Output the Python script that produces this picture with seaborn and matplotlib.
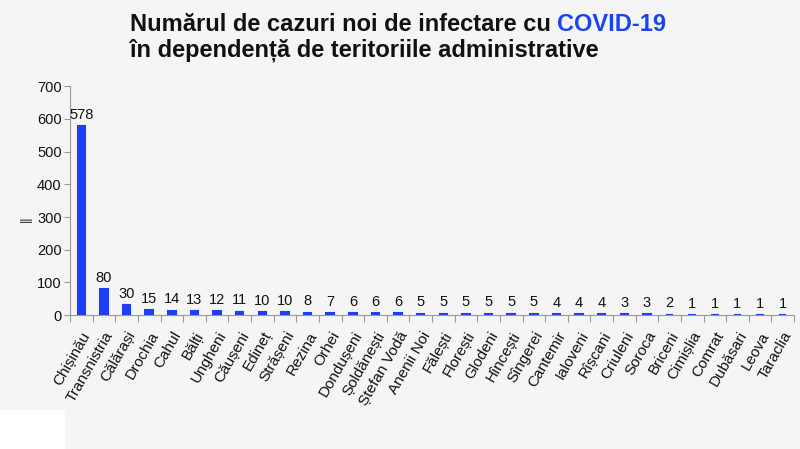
import matplotlib
matplotlib.use('Agg')
import matplotlib.pyplot as plt
import seaborn as sns
import pandas as pd
from matplotlib.patches import Rectangle
from matplotlib.ticker import FixedLocator

# Data
raioane = [
    'Chișinău', 'Transnistria', 'Călărași', 'Drochia', 'Cahul', 'Bălți',
    'Ungheni', 'Căușeni', 'Edineț', 'Strășeni', 'Rezina', 'Orhei',
    'Dondușeni', 'Șoldănești', 'Ștefan Vodă', 'Anenii Noi', 'Fălești',
    'Florești', 'Glodeni', 'Hîncești', 'Sîngerei', 'Cantemir', 'Ialoveni',
    'Rîșcani', 'Criuleni', 'Soroca', 'Briceni', 'Cimișlia', 'Comrat',
    'Dubăsari', 'Leova', 'Taraclia'
]
cazuri = [578, 80, 30, 15, 14, 13, 12, 11, 10, 10, 8, 7, 6, 6, 6, 5, 5, 5,
          5, 5, 5, 4, 4, 4, 3, 3, 2, 1, 1, 1, 1, 1]
y_ticks = [0, 100, 200, 300, 400, 500, 600, 700]

BG = '#f5f5f5'
BAR = '#1e3ff5'

sns.set_theme(style='white')
plt.rcParams['font.family'] = ['Liberation Sans', 'DejaVu Sans']

df = pd.DataFrame({'raion': raioane, 'cazuri': cazuri})

fig = plt.figure(figsize=(8, 4.49), dpi=100, facecolor=BG)
ax = fig.add_axes([0.0875, 0.298, 0.905, 0.51])
ax.set_facecolor(BG)

# thin edge in the same colour keeps the 1-case bars visible
sns.barplot(data=df, x='raion', y='cazuri', color=BAR, width=0.33,
            saturation=1, edgecolor=BAR, linewidth=1.5, ax=ax)
for bar in ax.containers[0]:
    bar.set_zorder(3)

ax.bar_label(ax.containers[0], fontsize=10.5, padding=3, color='#111111')

ax.set_ylim(0, 700)
ax.set_xlim(-0.5, len(raioane) - 0.5)
ax.set_yticks(y_ticks)
ax.tick_params(axis='y', labelsize=10.5, length=4, width=0.8,
               color='#999999', left=True, pad=2, labelcolor='#111111')
ax.set_xticks(range(len(raioane)))
ax.set_xticklabels(raioane, rotation=60, ha='right', rotation_mode='anchor',
                   fontsize=11, color='#111111')
ax.tick_params(axis='x', which='major', length=0, pad=10)
ax.xaxis.set_minor_locator(FixedLocator([i - 0.5 for i in range(len(raioane) + 1)]))
ax.tick_params(axis='x', which='minor', length=5, width=0.8,
               color='#999999', bottom=True)

for side in ['top', 'right']:
    ax.spines[side].set_visible(False)
for side in ['left', 'bottom']:
    ax.spines[side].set_color('#999999')
    ax.spines[side].set_linewidth(0.8)
    ax.spines[side].set_zorder(2)

ax.set_xlabel('')
ax.set_ylabel('||', fontsize=9, color='#222222')
ax.yaxis.set_label_coords(-0.052, 0.42)

# Title, with COVID-19 in blue
TSIZE = 17
t1 = fig.text(0.1625, 0.93, 'Numărul de cazuri noi de infectare cu ',
              fontsize=TSIZE, fontweight='bold', color='#111111', va='baseline')
fig.canvas.draw()
bb = t1.get_window_extent(renderer=fig.canvas.get_renderer())
x_end = bb.x1 / fig.bbox.width
fig.text(x_end, 0.93, 'COVID-19', fontsize=TSIZE, fontweight='bold',
         color='#1a44f0', va='baseline')
fig.text(0.1625, 0.875, 'în dependență de teritoriile administrative',
         fontsize=TSIZE, fontweight='bold', color='#111111', va='baseline')

fig.patches.append(Rectangle((0, 0), 65 / 800, 39 / 449, transform=fig.transFigure,
                             facecolor='white', edgecolor='none', zorder=-1))

fig.savefig('out.png', dpi=100, facecolor=BG)
